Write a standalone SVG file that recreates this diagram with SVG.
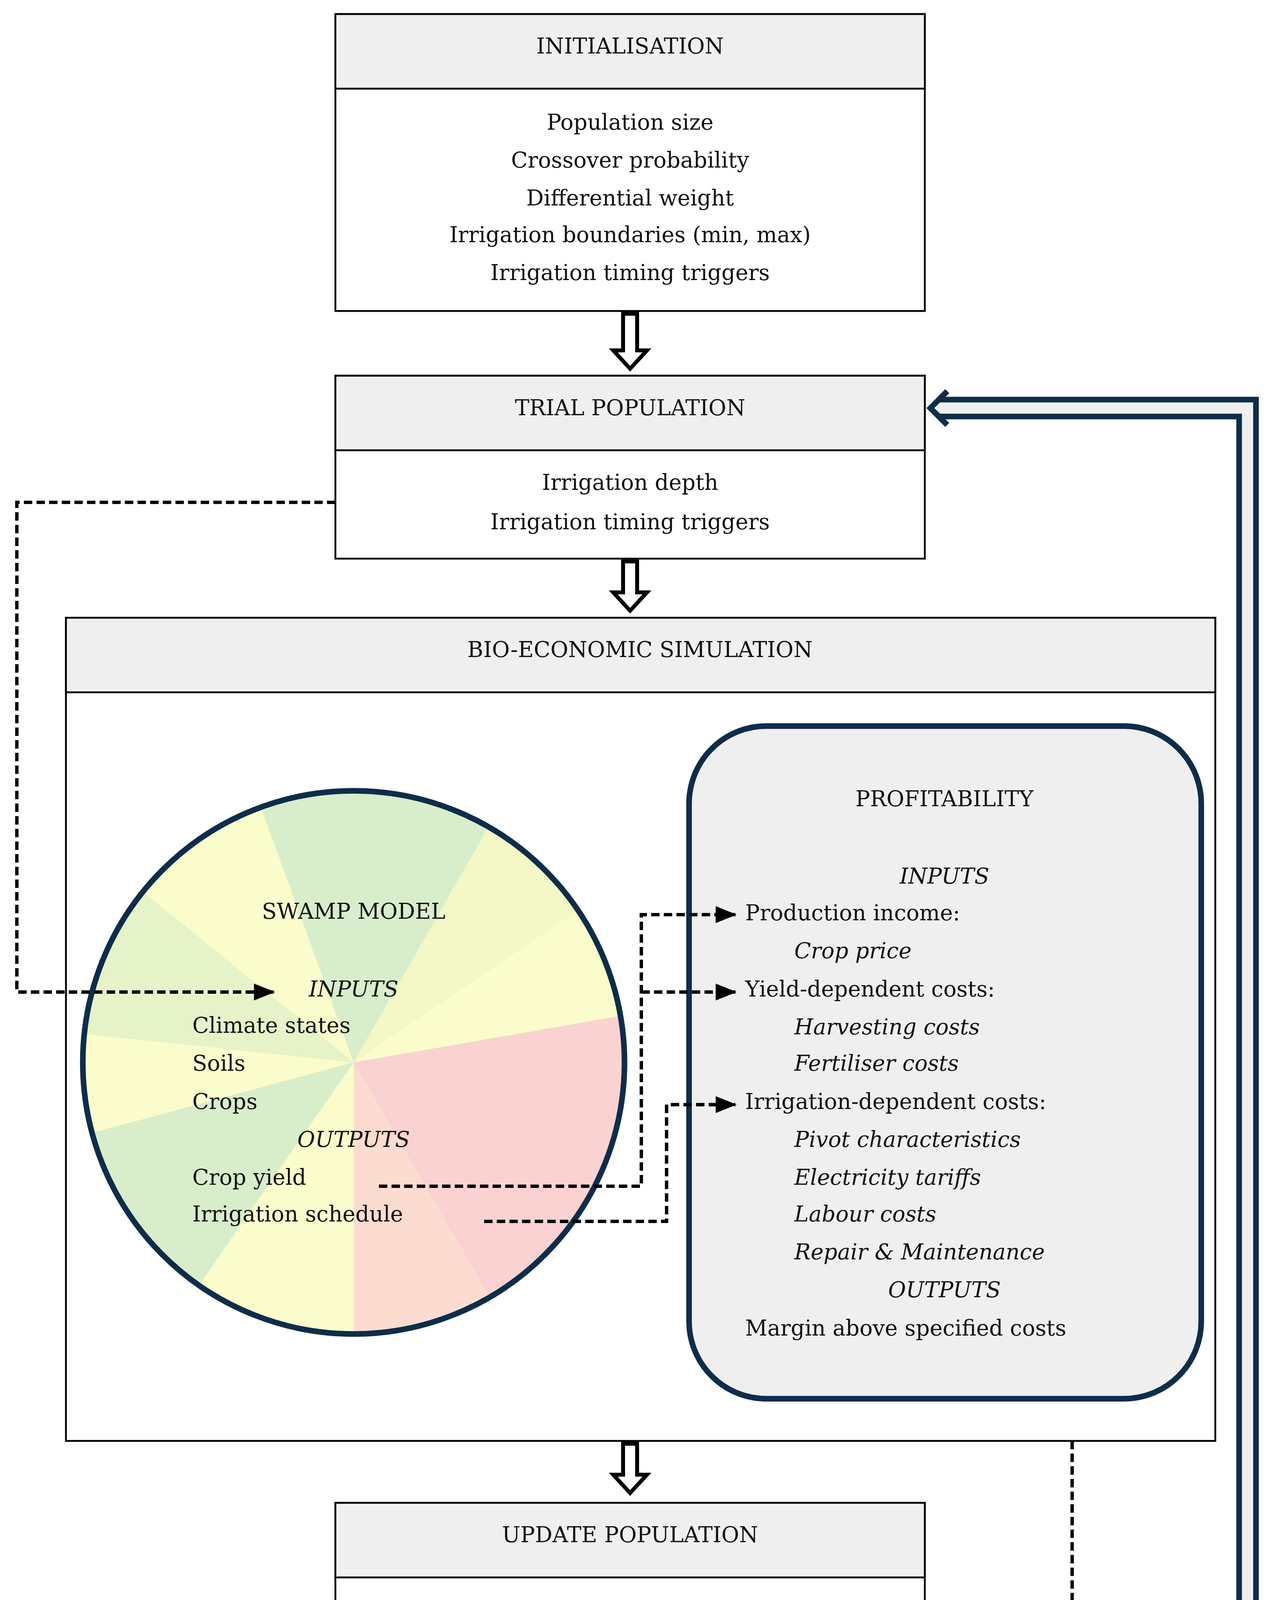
<svg xmlns="http://www.w3.org/2000/svg" width="3251" height="5634" viewBox="0 0 3251 5634">
<style>
text{font-family:"DejaVu Serif","Liberation Serif",serif;font-size:15.5px;fill:#111;dominant-baseline:middle}
.c{text-anchor:middle}
.i{font-style:italic}
.box{fill:#fff;stroke:#000;stroke-width:1.3}
.hd{fill:#efefef;stroke:#000;stroke-width:1.3}
.ha{fill:#fff;stroke:#000;stroke-width:2.8;stroke-linejoin:miter}
.dash{fill:none;stroke:#000;stroke-width:2.4;stroke-dasharray:6,3}
</style>
<defs>
<marker id="ar" markerUnits="userSpaceOnUse" markerWidth="16" markerHeight="12" refX="14" refY="6" orient="auto"><path d="M0,0L15,6L0,12z" fill="#000"/></marker>
</defs>
<rect width="3251" height="5634" fill="#fff"/>
<g transform="scale(3.5923,3.6023)">
<g id="init">
<rect class="box" x="239" y="10" width="420" height="211"/>
<rect class="hd" x="239" y="10" width="420" height="53"/>
<text class="c" x="449" y="34">INITIALISATION</text>
<text class="c" x="449" y="88">Population size</text>
<text class="c" x="449" y="115">Crossover probability</text>
<text class="c" x="449" y="142">Differential weight</text>
<text class="c" x="449" y="168">Irrigation boundaries (min, max)</text>
<text class="c" x="449" y="195">Irrigation timing triggers</text>
</g>
<g id="trial">
<rect class="box" x="239" y="267" width="420" height="130"/>
<rect class="hd" x="239" y="267" width="420" height="53"/>
<text class="c" x="449" y="291">TRIAL POPULATION</text>
<text class="c" x="449" y="344">Irrigation depth</text>
<text class="c" x="449" y="372">Irrigation timing triggers</text>
</g>
<g id="sim">
<rect class="box" x="47" y="439" width="819" height="585"/>
<rect class="hd" x="47" y="439" width="819" height="53"/>
<text class="c" x="456" y="463">BIO-ECONOMIC SIMULATION</text>
</g>
<g id="swamp">
<circle cx="252" cy="755" r="193" fill="#fafccb"/>
<g transform="translate(252,755)">
<path d="M0,0L-66,-181A193,193 0 0 1 96,-167z" fill="#d8eecb"/>
<path d="M0,0L190,-33A193,193 0 0 1 97,167z" fill="#fbd2d2"/>
<path d="M0,0L97,167A193,193 0 0 1 0,193z" fill="#fcdcd0"/>
<path d="M0,0L-110,158A193,193 0 0 1 -186,50z" fill="#d8eecb"/>
<path d="M0,0L-190,-20A193,193 0 0 1 -150,-121z" fill="#e6f3c8"/>
<path d="M0,0L96,-167A193,193 0 0 1 160,-108z" fill="#f3f8c6"/>
</g>
<circle cx="252" cy="755" r="193" fill="none" stroke="#0d2d4a" stroke-width="4"/>
<text class="c" x="252" y="649">SWAMP MODEL</text>
<text class="c i" x="252" y="704">INPUTS</text>
<text x="137" y="730">Climate states</text>
<text x="137" y="757">Soils</text>
<text x="137" y="784">Crops</text>
<text class="c i" x="252" y="811">OUTPUTS</text>
<text x="137" y="838">Crop yield</text>
<text x="137" y="864">Irrigation schedule</text>
</g>
<g id="profit">
<rect x="491" y="516" width="365" height="478" rx="55" fill="#efefef" stroke="#0d2d4a" stroke-width="4"/>
<text class="c" x="673" y="569">PROFITABILITY</text>
<text class="c i" x="673" y="624">INPUTS</text>
<text x="531" y="650">Production income:</text>
<text class="i" x="566" y="677">Crop price</text>
<text x="531" y="704">Yield-dependent costs:</text>
<text class="i" x="566" y="731">Harvesting costs</text>
<text class="i" x="566" y="757">Fertiliser costs</text>
<text x="531" y="784">Irrigation-dependent costs:</text>
<text class="i" x="566" y="811">Pivot characteristics</text>
<text class="i" x="566" y="838">Electricity tariffs</text>
<text class="i" x="566" y="864">Labour costs</text>
<text class="i" x="566" y="891">Repair &amp; Maintenance</text>
<text class="c i" x="673" y="918">OUTPUTS</text>
<text x="531" y="945">Margin above specified costs</text>
</g>
<g id="update">
<rect class="box" x="239" y="1068" width="420" height="130"/>
<rect class="hd" x="239" y="1068" width="420" height="53"/>
<text class="c" x="449" y="1092">UPDATE POPULATION</text>
<text class="c" x="449" y="1146">Evaluate fitness</text>
<text class="c" x="449" y="1173">Include more fit individuals (selection)</text>
</g>
<g id="decision">
<polygon points="449,1241 607,1310 449,1380 287,1310" fill="#fff" stroke="#000" stroke-width="3"/>
<text class="c" x="449" y="1305">Stopping</text>
<text class="c" x="449" y="1331">criterium met?</text>
</g>
<g id="evolve">
<rect class="box" x="239" y="1425" width="420" height="131"/>
<rect class="hd" x="239" y="1425" width="420" height="53"/>
<text class="c" x="449" y="1449">EVOLVE POPULATION</text>
<text class="c" x="449" y="1504">Mutation</text>
<text class="c" x="449" y="1531">Crossover</text>
</g>
<g id="connectors">
<path class="ha" d="M444,223H454V249H461L449,262L437,249H444z"/>
<path class="ha" d="M444,399H454V421H461L449,434L437,421H444z"/>
<path class="ha" d="M444,1026H454V1048H461L449,1061L437,1048H444z"/>
<path class="ha" d="M444,1201H454V1222H461L449,1235L437,1222H444z"/>
<path class="ha" d="M444,1384H454V1405H461L449,1418L437,1405H444z"/>
<path class="ha" d="M614,1305H636V1298L648,1310L636,1322V1315H614z"/>
<text x="666" y="1311">Yes - End</text>
<text x="484" y="1396">No</text>
<path d="M659,1452H889V290H668" fill="none" stroke="#0d2d4a" stroke-width="16" stroke-linejoin="miter"/>
<path d="M659,1452H889V290H668" fill="none" stroke="#efefef" stroke-width="8" stroke-linejoin="miter"/>
<path d="M675,278L663,290L675,302" fill="none" stroke="#0d2d4a" stroke-width="4"/>
<path class="dash" d="M239,357H12V705H195" marker-end="url(#ar)"/>
<path class="dash" d="M270,843H457V650H524" marker-end="url(#ar)"/>
<path class="dash" d="M457,705H524" marker-end="url(#ar)"/>
<path class="dash" d="M345,868H475V785H524" marker-end="url(#ar)"/>
<path class="dash" d="M764,1024V1145H543" marker-end="url(#ar)"/>
</g>
</g>
</svg>
